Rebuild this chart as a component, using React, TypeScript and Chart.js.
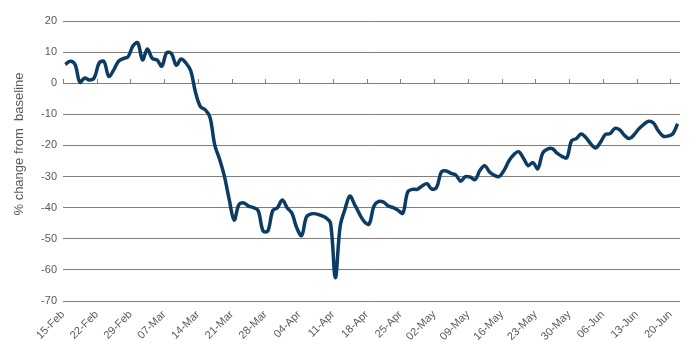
import React, { useEffect, useRef } from "react";
import { Chart, registerables } from "chart.js";

Chart.register(...registerables);

// Daily values, 15-Feb to 21-Jun (% change from baseline)
const febValues = [6.0, 7.1, 6.0, 0.3, 1.7, 1.0, 1.8, 6.5, 7.0, 2.2, 4.2, 7.0, 7.9, 8.5, 12.0];
const marValues = [
  13.0, 7.5, 11.0, 8.0, 7.5, 5.5, 9.8, 9.5, 5.8, 7.8, 6.5, 4.0, -3.0, -7.5, -8.5, -11.0,
  -20.0, -24.5, -30.0, -37.5, -44.0, -39.0, -38.5, -39.5, -40.0, -41.0, -47.5, -47.5, -41.0, -40.0, -37.5,
];
const aprValues = [
  -40.0, -41.8, -46.5, -49.0, -43.0, -42.0, -42.0, -42.5, -43.2, -45.0, -62.5, -46.0, -40.5, -36.3, -39.0,
  -42.0, -44.5, -45.3, -39.5, -38.0, -38.2, -39.5, -40.0, -40.8, -41.8, -35.0, -34.1, -34.1, -33.0, -32.3,
];
const mayValues = [
  -34.0, -33.5, -28.5, -28.2, -29.0, -29.5, -31.5, -30.0, -30.2, -31.0, -28.0, -26.5, -28.5, -29.6, -30.0,
  -28.0, -25.0, -23.0, -22.0, -24.0, -26.5, -25.5, -27.5, -22.5, -21.2, -21.0, -22.5, -23.5, -24.0, -18.5, -17.8,
];
const junValues = [
  -16.3, -17.5, -19.5, -20.8, -19.0, -16.5, -16.2, -14.5, -15.0, -16.8, -17.8, -16.5, -14.6, -13.2, -12.2,
  -12.8, -15.3, -17.0, -17.0, -16.3, -13.0,
];
const values = [...febValues, ...marValues, ...aprValues, ...mayValues, ...junValues];

const tickLabels = [
  "15-Feb", "22-Feb", "29-Feb", "07-Mar", "14-Mar", "21-Mar", "28-Mar", "04-Apr", "11-Apr", "18-Apr",
  "25-Apr", "02-May", "09-May", "16-May", "23-May", "30-May", "06-Jun", "13-Jun", "20-Jun",
];
const daysPerTick = 7;
const yTicks = [20, 10, 0, -10, -20, -30, -40, -50, -60, -70];
const yTitle = "% change from  baseline";

const FONT = '"Liberation Sans", Arial, sans-serif';
const TEXT = "#595959";
const GRID = "#7f7f7f";
const LINE = "#0c3c64";

const zeroTicks = {
  id: "zeroTicks",
  beforeDatasetsDraw(chart: any) {
    const { ctx, scales } = chart;
    const x = scales.x;
    const y = scales.y;
    const y0 = Math.round(y.getPixelForValue(0));
    ctx.save();
    ctx.strokeStyle = GRID;
    ctx.lineWidth = 1;
    x.ticks.forEach((t: any) => {
      const px = Math.round(x.getPixelForValue(t.value)) + 0.5;
      ctx.beginPath();
      ctx.moveTo(px, y0);
      ctx.lineTo(px, y0 - 4);
      ctx.stroke();
    });
    ctx.restore();
  },
};

const sideTitle = {
  id: "sideTitle",
  afterDraw(chart: any) {
    const { ctx } = chart;
    ctx.save();
    ctx.translate(19, 144);
    ctx.rotate(-Math.PI / 2);
    ctx.textAlign = "center";
    ctx.textBaseline = "middle";
    ctx.font = `13px ${FONT}`;
    ctx.fillStyle = TEXT;
    ctx.fillText(yTitle, 0, 0);
    ctx.restore();
  },
};

export default function App() {
  const ref = useRef<HTMLCanvasElement | null>(null);

  useEffect(() => {
    if (!ref.current) return;
    const chart = new Chart(ref.current, {
      type: "line",
      data: {
        datasets: [
          {
            data: values.map((v, i) => ({ x: i + 0.5, y: v })),
            borderColor: LINE,
            borderWidth: 3.5,
            pointRadius: 0,
            tension: 0.35,
            fill: false,
          },
        ],
      },
      options: {
        animation: false,
        responsive: false,
        devicePixelRatio: 1,
        layout: { padding: { left: 0, top: 21, right: 20, bottom: 0 } },
        plugins: { legend: { display: false }, tooltip: { enabled: false } },
        scales: {
          x: {
            type: "linear",
            min: 0,
            max: values.length,
            afterBuildTicks: (s: any) => {
              s.ticks = tickLabels.map((_, i) => ({ value: i * daysPerTick }));
            },
            afterFit: (s: any) => {
              s.height = 50;
            },
            grid: { display: false, drawTicks: false },
            border: { display: false },
            ticks: {
              autoSkip: false,
              maxRotation: 45,
              minRotation: 45,
              padding: 7,
              color: TEXT,
              font: { size: 11, family: FONT },
              callback: (v: any) => tickLabels[Math.round(Number(v) / daysPerTick)] ?? "",
            },
          },
          y: {
            min: yTicks[yTicks.length - 1],
            max: yTicks[0],
            afterBuildTicks: (s: any) => {
              s.ticks = yTicks.map((v) => ({ value: v }));
            },
            afterFit: (s: any) => {
              s.width = 63;
            },
            grid: { color: GRID, lineWidth: 1, drawTicks: false },
            border: { display: false },
            ticks: {
              padding: 6,
              color: TEXT,
              font: { size: 11, family: FONT },
            },
          },
        },
      },
      plugins: [zeroTicks, sideTitle],
    });
    return () => chart.destroy();
  }, []);

  return (
    <div style={{ position: "absolute", left: 0, top: 0, width: 700, height: 351, background: "#fff" }}>
      <canvas ref={ref} width={700} height={351} />
    </div>
  );
}
